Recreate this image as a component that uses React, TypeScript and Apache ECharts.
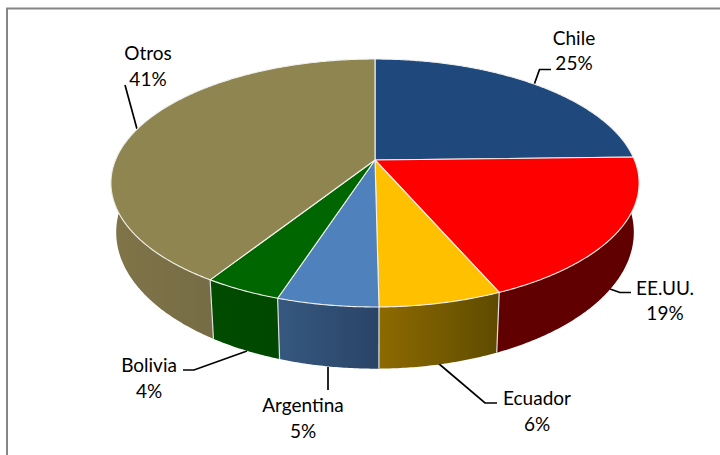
import React, { useEffect, useRef } from "react";
import * as echarts from "echarts";

const categories = ["Chile", "EE.UU.", "Ecuador", "Argentina", "Bolivia", "Otros"];
const shares = [24.6, 18.9, 6.3, 5.2, 4.0, 41.0];

const topColors = ["#1F497D", "#FF0000", "#FFC000", "#4F81BD", "#006600", "#8F8550"];
const wallColors: [string, string][] = [
  ["#1F3A60", "#1F3A60"],
  ["#600000", "#600000"],
  ["#8E6A00", "#5E4B00"],
  ["#36587F", "#2A4467"],
  ["#004C00", "#004800"],
  ["#807548", "#766C45"],
];
// label centre x, first line y, second line y, and leader points
const labelLayout = [
  { x: 574, y1: 37, y2: 62, leader: [[534, 85], [539.5, 69.5], [551, 69.5]] },
  { x: 665, y1: 287, y2: 312, leader: [[610, 289], [620, 292.5], [631, 292.5]] },
  { x: 537, y1: 397, y2: 423, leader: [[438, 363], [485, 403], [497, 403]] },
  { x: 303, y1: 404, y2: 430, leader: [[328, 367], [328, 390]] },
  { x: 149, y1: 364, y2: 390, leader: [[247, 351], [194, 370], [183, 370]] },
  { x: 148, y1: 52, y2: 78, leader: [[137, 129], [125, 85]] },
];

const CX = 375;
const CY = 160;
const RX = 259.5;
const RY = 119.7;
const PERSP = 0.1855;
const BOTTOM_SX = 0.98;
const BOTTOM_SY = 1.1;
const BOTTOM_CY = 207;

const total = shares.reduce((a, b) => a + b, 0);
const startAngle = (i: number) => (shares.slice(0, i).reduce((a, b) => a + b, 0) / total) * 360;

function rim(deg: number): [number, number] {
  const t = (deg * Math.PI) / 180;
  const w = 1 + PERSP * Math.cos(t);
  return [CX + (RX * Math.sin(t)) / w, CY - (RY * Math.cos(t)) / w];
}
function rimBottom(deg: number): [number, number] {
  const [x, y] = rim(deg);
  return [CX + BOTTOM_SX * (x - CX), BOTTOM_CY + BOTTOM_SY * (y - CY)];
}
function arcPts(a: number, b: number, f: (d: number) => [number, number]) {
  const pts: [number, number][] = [];
  const n = Math.max(2, Math.ceil((b - a) * 2));
  for (let i = 0; i <= n; i++) pts.push(f(a + ((b - a) * i) / n));
  return pts;
}

const edge = "#F0F0EC";

function renderWall(params: any, api: any) {
  const i = params.dataIndex;
  const a0 = startAngle(i);
  const a1 = a0 + (api.value(0) / total) * 360;
  const from = Math.max(a0, 90);
  const to = Math.min(a1, 270);
  if (to <= from) return { type: "group", children: [] };
  const top = arcPts(from, to, rim);
  const bot = arcPts(from, to, rimBottom).reverse();
  const children: any[] = [
    {
      type: "polygon",
      shape: { points: [...top, ...bot] },
      style: {
        fill: new echarts.graphic.LinearGradient(0, 0, 1, 0, [
          { offset: 0, color: wallColors[i][0] },
          { offset: 1, color: wallColors[i][1] },
        ]),
        stroke: null,
      },
    },
  ];
  if (a0 > 90 && a0 < 270) {
    const p = rim(a0);
    const q = rimBottom(a0);
    children.push({
      type: "line",
      shape: { x1: p[0], y1: p[1], x2: q[0], y2: q[1] },
      style: { stroke: "#DEDEDE", lineWidth: 1.2 },
    });
  }
  return { type: "group", children };
}

function renderTop(params: any, api: any) {
  const i = params.dataIndex;
  const a0 = startAngle(i);
  const a1 = a0 + (api.value(0) / total) * 360;
  return {
    type: "polygon",
    shape: { points: [[CX, CY], ...arcPts(a0, a1, rim)] },
    style: { fill: topColors[i], stroke: edge, lineWidth: 1.1, lineJoin: "round" },
  };
}

function renderLabel(params: any, api: any) {
  const i = params.dataIndex;
  const l = labelLayout[i];
  const text = (t: string, y: number) => ({
    type: "text",
    x: l.x,
    y,
    style: {
      text: t,
      fill: "#000000",
      font: '19px Lato, "Open Sans", sans-serif',
      textAlign: "center",
      textVerticalAlign: "middle",
    },
  });
  return {
    type: "group",
    children: [
      {
        type: "polyline",
        shape: { points: l.leader },
        style: { stroke: "#000000", lineWidth: 1.7, fill: null },
      },
      text(categories[i], l.y1),
      text(`${Math.round(api.value(0))}%`, l.y2),
    ],
  };
}

export default function App() {
  const ref = useRef<HTMLDivElement>(null);
  useEffect(() => {
    document.body.style.margin = "0";
    const chart = echarts.init(ref.current!, undefined, { renderer: "svg" });
    const data = shares.map((v) => [v]);
    chart.setOption({
      animation: false,
      backgroundColor: "#FFFFFF",
      graphic: [
        {
          type: "rect",
          z: -10,
          shape: { x: 7, y: 8.5, width: 730, height: 470 },
          style: { fill: "#FFFFFF", stroke: "#868686", lineWidth: 2 },
        },
      ],
      series: [
        { type: "custom", coordinateSystem: "none", data, renderItem: renderWall, z: 2, silent: true },
        { type: "custom", coordinateSystem: "none", data, renderItem: renderTop, z: 3, silent: true },
        { type: "custom", coordinateSystem: "none", data, renderItem: renderLabel, z: 1, silent: true },
      ],
    });
    return () => chart.dispose();
  }, []);
  return <div ref={ref} style={{ position: "absolute", left: 0, top: 0, width: 720, height: 455 }} />;
}
